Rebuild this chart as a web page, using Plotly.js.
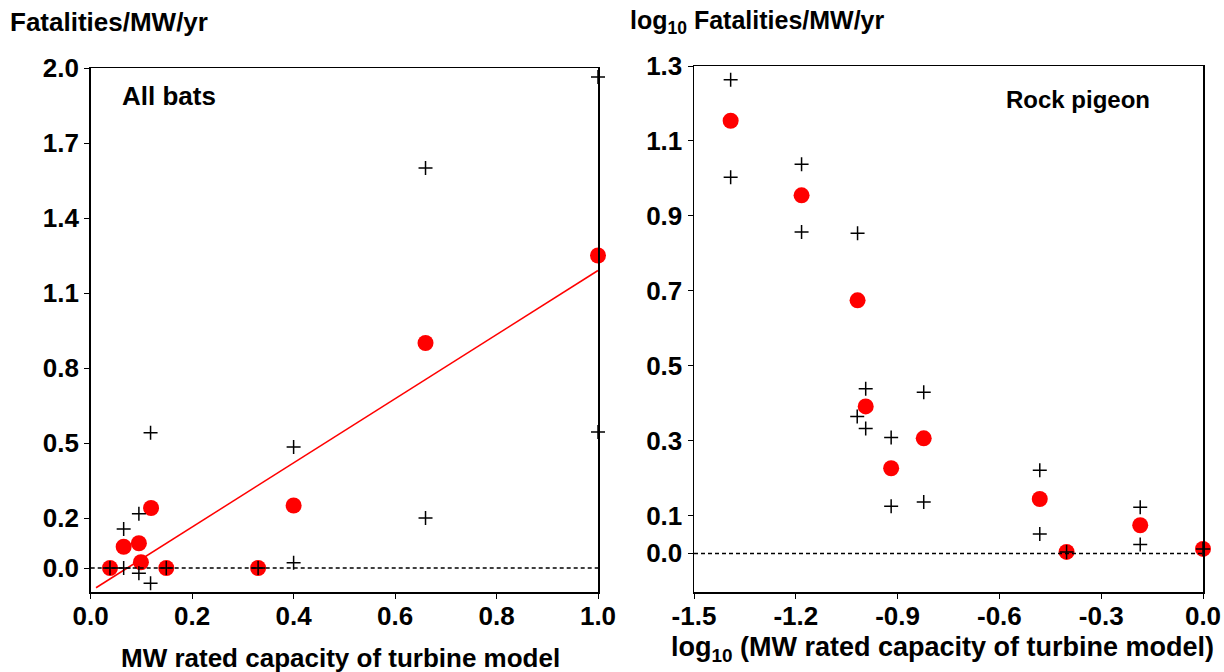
<!DOCTYPE html>
<html>
<head>
<meta charset="utf-8">
<script src="https://cdn.plot.ly/plotly-3.0.1.min.js"></script>
<style>html,body{margin:0;padding:0;background:#fff;}#chart{width:1224px;height:672px;}</style>
</head>
<body>
<div id="chart"></div>
<script>
// ---- Left panel: All bats ----
const batsMeanX = [0.038, 0.065, 0.095, 0.099, 0.119, 0.149, 0.33, 0.40, 0.66, 1.0];
const batsMeanY = [0.0, 0.085, 0.099, 0.023, 0.24, 0.0, 0.0, 0.25, 0.90, 1.25];
const batsCiX = [0.038, 0.065, 0.065, 0.095, 0.095, 0.118, 0.118, 0.149, 0.33, 0.40, 0.40, 0.66, 0.66, 1.0, 1.0];
const batsCiY = [0.0, 0.156, 0.0, 0.217, -0.021, 0.541, -0.061, 0.0, 0.0, 0.484, 0.021, 1.60, 0.20, 1.964, 0.544];
const batsFitX = [0.0105, 1.0];
const batsFitY = [-0.079, 1.19];
const batsZeroX = [0, 1.0];
const batsXTicks = [0, 0.2, 0.4, 0.6, 0.8, 1.0];
const batsXTickText = ["0.0", "0.2", "0.4", "0.6", "0.8", "1.0"];
const batsYTicks = [0, 0.2, 0.5, 0.8, 1.1, 1.4, 1.7, 2.0];
const batsYTickText = ["0.0", "0.2", "0.5", "0.8", "1.1", "1.4", "1.7", "2.0"];

// ---- Right panel: Rock pigeon ----
const pigeonMeanX = [-1.392, -1.183, -1.018, -0.994, -0.919, -0.823, -0.481, -0.402, -0.185, 0.0];
const pigeonMeanY = [1.154, 0.955, 0.675, 0.392, 0.227, 0.307, 0.145, 0.004, 0.075, 0.012];
const pigeonCiX = [-1.392, -1.392, -1.183, -1.183, -1.018, -0.994, -1.019, -0.994, -0.919, -0.919, -0.823, -0.823, -0.481, -0.481, -0.402, -0.185, -0.185, 0.0];
const pigeonCiY = [1.263, 1.003, 1.038, 0.857, 0.854, 0.439, 0.365, 0.333, 0.309, 0.126, 0.43, 0.137, 0.222, 0.052, 0.004, 0.123, 0.024, 0.012];
const pigeonZeroX = [-1.5, 0.0];
const pigeonXTicks = [-1.5, -1.2, -0.9, -0.6, -0.3, 0.0];
const pigeonXTickText = ["-1.5", "-1.2", "-0.9", "-0.6", "-0.3", "0.0"];
const pigeonYTicks = [0, 0.1, 0.3, 0.5, 0.7, 0.9, 1.1, 1.3];
const pigeonYTickText = ["0.0", "0.1", "0.3", "0.5", "0.7", "0.9", "1.1", "1.3"];

const FONT = "Liberation Sans, Arial, Helvetica, sans-serif";
const meanMarker = {symbol: "circle", size: 16, color: "#ff0000", line: {width: 0}};
const crossMarker = {symbol: "cross-thin-open", size: 10, color: "#000", line: {width: 1.5, color: "#000"}};

const traces = [
  {x: batsFitX, y: batsFitY, xaxis: "x", yaxis: "y", mode: "lines", line: {color: "#ff0000", width: 1.5}, hoverinfo: "skip"},
  {x: batsMeanX, y: batsMeanY, xaxis: "x", yaxis: "y", mode: "markers", marker: meanMarker, cliponaxis: false},
  {x: batsZeroX, y: batsZeroX.map(() => 0), xaxis: "x", yaxis: "y", mode: "lines", line: {color: "#000", width: 1.5, dash: "4px,3px"}},
  {x: batsCiX, y: batsCiY, xaxis: "x", yaxis: "y", mode: "markers", marker: crossMarker, cliponaxis: false},
  {x: pigeonMeanX, y: pigeonMeanY, xaxis: "x2", yaxis: "y2", mode: "markers", marker: meanMarker, cliponaxis: false},
  {x: pigeonZeroX, y: pigeonZeroX.map(() => 0), xaxis: "x2", yaxis: "y2", mode: "lines", line: {color: "#000", width: 1.5, dash: "4px,3px"}},
  {x: pigeonCiX, y: pigeonCiY, xaxis: "x2", yaxis: "y2", mode: "markers", marker: crossMarker, cliponaxis: false}
];

const tickFont = {family: FONT, size: 26, color: "#000", weight: 700};
const axisCommon = {
  showline: true, linecolor: "#000", linewidth: 1.5, mirror: true,
  showgrid: false, zeroline: false, tickfont: tickFont, fixedrange: true
};
const yAxisTicks = {ticks: "outside", ticklen: 5, tickwidth: 1, tickcolor: "#000"};
function xAxisTicks(vals) {
  return {ticks: "", ticklen: 0,
    minor: {tickmode: "array", tickvals: vals, ticks: "outside", ticklen: 5, tickwidth: 1, tickcolor: "#000", showgrid: false}};
}

const layout = {
  width: 1224, height: 672,
  margin: {l: 0, r: 0, t: 0, b: 0},
  paper_bgcolor: "#fff", plot_bgcolor: "#fff",
  showlegend: false,
  font: {family: FONT, color: "#000"},
  xaxis: Object.assign({}, axisCommon, xAxisTicks(batsXTicks), {domain: [90.7/1224, 598/1224], range: [0, 1.0], tickmode: "array", tickvals: batsXTicks, ticktext: batsXTickText, anchor: "y"}),
  yaxis: Object.assign({}, axisCommon, yAxisTicks, {domain: [1 - 592/672, 1 - 68/672], range: [-0.096, 2.0], tickmode: "array", tickvals: batsYTicks, ticktext: batsYTickText, anchor: "x"}),
  xaxis2: Object.assign({}, axisCommon, xAxisTicks(pigeonXTicks), {domain: [694/1224, 1203/1224], range: [-1.5, 0.0], tickmode: "array", tickvals: pigeonXTicks, ticktext: pigeonXTickText, anchor: "y2"}),
  yaxis2: Object.assign({}, axisCommon, yAxisTicks, {domain: [1 - 592/672, 1 - 66/672], range: [-0.103, 1.3], tickmode: "array", tickvals: pigeonYTicks, ticktext: pigeonYTickText, anchor: "x2"}),
  annotations: [
    {text: "Fatalities/MW/yr", xref: "paper", yref: "paper", x: 8/1224, y: 1 - 22/672, xanchor: "left", yanchor: "middle", showarrow: false, font: {family: FONT, size: 26, weight: 700}},
    {text: "log<sub>10</sub> Fatalities/MW/yr", xref: "paper", yref: "paper", x: 628/1224, y: 1 - 22/672, xanchor: "left", yanchor: "middle", showarrow: false, font: {family: FONT, size: 25, weight: 700}},
    {text: "MW rated capacity of turbine model", xref: "paper", yref: "paper", x: 340/1224, y: 1 - 658/672, xanchor: "center", yanchor: "middle", showarrow: false, font: {family: FONT, size: 26, weight: 700}},
    {text: "log<sub>10</sub> (MW rated capacity of turbine model)", xref: "paper", yref: "paper", x: 942/1224, y: 1 - 649/672, xanchor: "center", yanchor: "middle", showarrow: false, font: {family: FONT, size: 27, weight: 700}},
    {text: "All bats", xref: "paper", yref: "paper", x: 120/1224, y: 1 - 96/672, xanchor: "left", yanchor: "middle", showarrow: false, font: {family: FONT, size: 26, weight: 700}},
    {text: "Rock pigeon", xref: "paper", yref: "paper", x: 1152/1224, y: 1 - 99/672, xanchor: "right", yanchor: "middle", showarrow: false, font: {family: FONT, size: 24, weight: 700}}
  ]
};

Plotly.newPlot("chart", traces, layout, {staticPlot: true, displayModeBar: false});
</script>
</body>
</html>
